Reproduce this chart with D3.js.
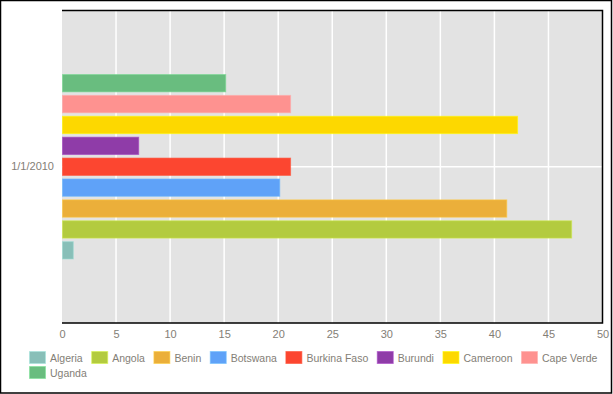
<!DOCTYPE html>
<html>
<head>
<meta charset="utf-8">
<script src="https://cdn.jsdelivr.net/npm/d3@7"></script>
<style>
    body { margin: 0; background: #fff; }
    svg { display: block; }
</style>
</head>
<body>
<div id="canvas"></div>
<script>
var categories = ['1/1/2010'];
var countries = ['Algeria', 'Angola', 'Benin', 'Botswana', 'Burkina Faso', 'Burundi', 'Cameroon', 'Cape Verde', 'Uganda'];
var values = [1.0, 47.1, 41.1, 20.1, 21.1, 7.05, 42.1, 21.1, 15.1];
var colors = ['#88bfb8', '#b3cb3f', '#ebaf3a', '#5fa2f8', '#fc4630', '#8f3ca8', '#fdd800', '#fe9290', '#69bd7f'];
var xTicks = [0, 5, 10, 15, 20, 25, 30, 35, 40, 45, 50];

var svgWidth = 613;
var svgHeight = 394;
var plotLeft = 62, plotRight = 602.5, plotTop = 10.5, plotBottom = 323;
var textColor = '#837e76';
var fontFamily = '"Liberation Sans", Arial, sans-serif';

var svg = d3.select('#canvas')
    .append('svg')
    .attr('width', svgWidth)
    .attr('height', svgHeight);

// outer frame
svg.append('rect')
    .attr('x', 0.5)
    .attr('y', 0.5)
    .attr('width', svgWidth - 2)
    .attr('height', svgHeight - 1.5)
    .attr('fill', 'none')
    .attr('stroke', '#000')
    .attr('stroke-width', 1.5);

var x = d3.scaleLinear().domain([0, 50]).range([plotLeft, plotRight]);
var yCat = d3.scaleBand().domain(categories).range([plotTop, plotBottom]).paddingOuter(0.331);
var ySeries = d3.scaleBand().domain(countries.slice().reverse())
    .range([0, yCat.bandwidth()]).paddingInner(0.17).paddingOuter(0.085);

// plot background
svg.append('rect')
    .attr('x', plotLeft)
    .attr('y', plotTop)
    .attr('width', plotRight - plotLeft)
    .attr('height', plotBottom - plotTop)
    .attr('fill', '#e3e3e3');

// grid
svg.selectAll('.vgrid')
    .data(xTicks.slice(1, -1))
    .enter().append('line')
    .attr('x1', function(d) { return x(d); })
    .attr('x2', function(d) { return x(d); })
    .attr('y1', plotTop)
    .attr('y2', plotBottom)
    .attr('stroke', '#fff')
    .attr('stroke-width', 1.5);

svg.selectAll('.hgrid')
    .data(categories)
    .enter().append('line')
    .attr('x1', plotLeft)
    .attr('x2', plotRight)
    .attr('y1', function(d) { return yCat(d) + yCat.bandwidth() / 2; })
    .attr('y2', function(d) { return yCat(d) + yCat.bandwidth() / 2; })
    .attr('stroke', '#fff')
    .attr('stroke-width', 1.5);

// bars
var group = svg.append('g')
    .attr('transform', 'translate(0,' + yCat(categories[0]) + ')');
group.selectAll('rect')
    .data(countries)
    .enter().append('rect')
    .attr('x', x(0) + 0.5)
    .attr('y', function(d) { return ySeries(d); })
    .attr('width', function(d, i) { return x(values[i]) - x(0); })
    .attr('height', ySeries.bandwidth())
    .attr('fill', function(d, i) { return colors[i]; })
    .attr('stroke', function(d, i) { return d3.color(colors[i]).brighter(0.4); })
    .attr('stroke-opacity', 0.6);

// plot border lines (top, right, bottom)
svg.append('path')
    .attr('d', 'M' + plotLeft + ',' + plotTop + 'H' + plotRight + 'V' + plotBottom + 'H' + plotLeft)
    .attr('fill', 'none')
    .attr('stroke', '#000')
    .attr('stroke-width', 1.5);

// axes
var xAxis = svg.append('g')
    .attr('transform', 'translate(0,' + plotBottom + ')')
    .call(d3.axisBottom(x).tickValues(xTicks).tickSize(0).tickPadding(7));
xAxis.select('.domain').remove();

var yAxis = svg.append('g')
    .attr('transform', 'translate(' + (plotLeft - 8) + ',0)')
    .call(d3.axisLeft(yCat).tickSize(0).tickPadding(0));
yAxis.select('.domain').remove();

svg.selectAll('.tick text')
    .attr('fill', textColor)
    .attr('font-family', fontFamily)
    .attr('font-size', '11px');

// legend
var legend = svg.append('g');
var lx = 29, ly = 351, rowHeight = 15;
countries.forEach(function(name, i) {
    var item = legend.append('g');
    item.append('rect')
        .attr('x', 0.5)
        .attr('y', 0.5)
        .attr('width', 16)
        .attr('height', 12)
        .attr('fill', colors[i])
        .attr('stroke', d3.color(colors[i]).brighter(0.5))
        .attr('stroke-opacity', 0.6);
    var label = item.append('text')
        .attr('x', 21)
        .attr('y', 10.5)
        .text(name)
        .attr('fill', textColor)
        .attr('font-family', fontFamily)
        .attr('font-size', '10.5px');
    var w = 21 + label.node().getComputedTextLength();
    if (lx + w > svgWidth - 8) {
        lx = 29;
        ly += rowHeight;
    }
    item.attr('transform', 'translate(' + lx + ',' + ly + ')');
    lx += w + 8.5;
});
</script>
</body>
</html>
